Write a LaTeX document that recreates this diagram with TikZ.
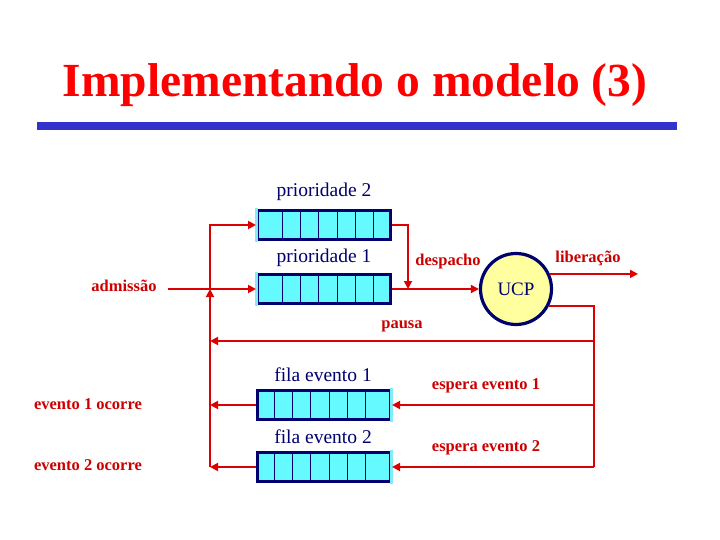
\documentclass[tikz,border=0pt]{standalone}
\usepackage{fontspec}
\setmainfont{Liberation Serif}
\usetikzlibrary{arrows.meta,calc,positioning}
\definecolor{marinho}{RGB}{0,0,110}
\definecolor{ciano}{RGB}{100,250,255}
\definecolor{borda}{RGB}{130,235,250}
\definecolor{linha}{RGB}{220,0,0}
\definecolor{vermelho}{RGB}{204,0,0}
\definecolor{titulo}{RGB}{255,0,0}
\definecolor{barra}{RGB}{51,51,204}
\definecolor{amarelo}{RGB}{255,255,160}
\begin{document}
\begin{tikzpicture}[x=1pt,y=-1pt,
 fila/.style={draw=marinho,line width=3pt,fill=ciano,minimum width=133pt,minimum height=29pt,inner sep=0pt},
 seta/.style={draw=linha,line width=1.8pt,-{Triangle[length=8pt,width=8pt]}},
 traco/.style={draw=linha,line width=1.8pt},
 rotulo/.style={text=vermelho,font=\bfseries\fontsize{16.5}{18}\selectfont},
 nome/.style={text=marinho,font=\fontsize{19.5}{22}\selectfont}]
\useasboundingbox (0,0) rectangle (720,540);
\node[anchor=base,text=titulo,font=\bfseries\fontsize{47.5}{50}\selectfont] (tit) at (355,97) {Implementando o modelo (3)};
\fill[barra] (37,122) rectangle (677,130);
% filas
\node[fila] (q2) at (324,225) {};
\node[fila] (q1) at (324,289) {};
\node[fila] (qe1) at (324,405) {};
\node[fila] (qe2) at (324,467) {};
\foreach \q in {q2,q1}{
 \fill[borda] ([xshift=-1pt,yshift=1pt]\q.north west) rectangle ([xshift=2pt,yshift=-1pt]\q.south west);
 \foreach \k in {1,...,6}
  \draw[marinho,line width=1pt] ([xshift=-\k*18.3pt]\q.north east) -- ([xshift=-\k*18.3pt]\q.south east);
}
\foreach \q in {qe1,qe2}{
 \fill[borda] ([xshift=1pt,yshift=1pt]\q.north east) rectangle ([xshift=-2pt,yshift=-1pt]\q.south east);
 \foreach \k in {1,...,6}
  \draw[marinho,line width=1pt] ([xshift=\k*18.3pt]\q.north west) -- ([xshift=\k*18.3pt]\q.south west);
}
\node[nome] (n2) at (324,192) {prioridade 2};
\node[nome] (n1) at (324,258) {prioridade 1};
\node[nome] (ne1) at (323,375) {fila evento 1};
\node[nome] (ne2) at (323,437) {fila evento 2};
\node[circle,draw=marinho,line width=3.2pt,fill=amarelo,minimum size=71pt,inner sep=0pt,
 text=marinho,font=\fontsize{19}{21}\selectfont] (ucp) at (516,289) {UCP};
% ligacoes
\coordinate (adm) at (168,289);
\coordinate (j1) at (210,289);
\coordinate (d1) at (408,289);
\coordinate (dir) at (594,341);
\coordinate (lib) at (638,274);
\draw[seta] (adm) -- (q1.west);
\draw[seta] (qe2.west -| j1) -- (j1);
\draw[seta] (j1) |- (q2.west);
\draw[seta] (q2.east) -| (d1);
\draw[seta] (q1.east) -- (ucp.west);
\draw[seta] (ucp.24) -- (ucp.24 -| lib);
\draw[traco] (ucp.-27) -| (qe2.east -| dir);
\draw[seta] (dir) -- (dir -| j1);
\draw[seta] (qe1.east -| dir) -- (qe1.east);
\draw[seta] (qe2.east -| dir) -- (qe2.east);
\draw[seta] (qe1.west) -- (qe1.west -| j1);
\draw[seta] (qe2.west) -- (qe2.west -| j1);
\node[rotulo] (ladm) at (124,286) {admissão};
\node[rotulo] (ldesp) at (448,262) {despacho};
\node[rotulo] (llib) at (588,258) {liberação};
\node[rotulo] (lpausa) at (402,326) {pausa};
\node[rotulo] (lesp1) at (486,386) {espera evento 1};
\node[rotulo] (lesp2) at (486,448) {espera evento 2};
\node[rotulo] (loc1) at (88,404) {evento 1 ocorre};
\node[rotulo] (loc2) at (88,465) {evento 2 ocorre};
\end{tikzpicture}
\end{document}
